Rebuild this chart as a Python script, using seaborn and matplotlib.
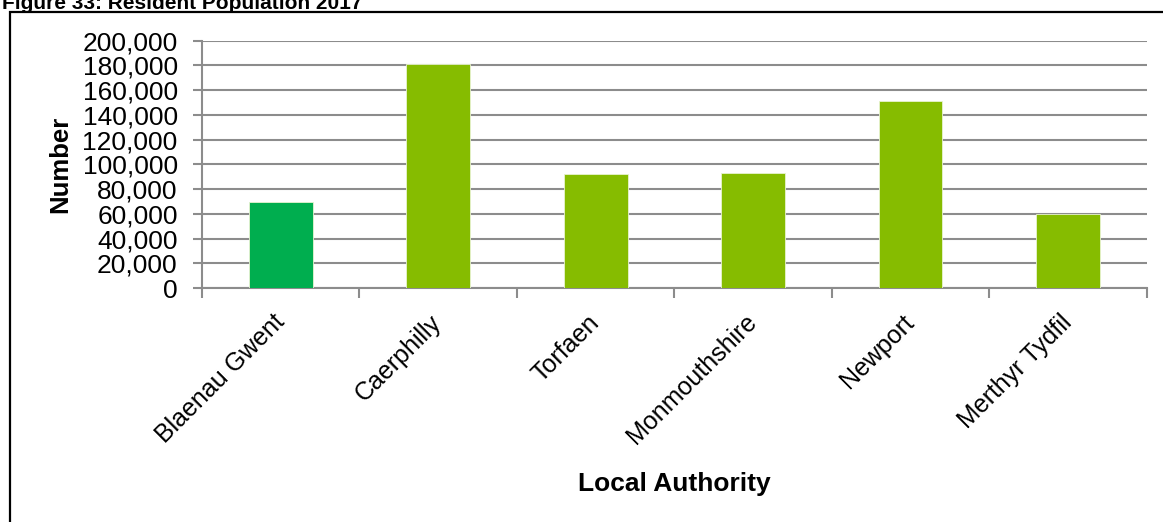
import matplotlib
matplotlib.use("Agg")
import matplotlib.pyplot as plt
from matplotlib.patches import Rectangle
from matplotlib.ticker import FuncFormatter, MultipleLocator, FixedLocator
import seaborn as sns
import pandas as pd

# Resident population by local authority, 2017
authorities = ["Blaenau Gwent", "Caerphilly", "Torfaen", "Monmouthshire", "Newport", "Merthyr Tydfil"]
population = [69600, 180800, 92200, 93200, 151500, 60100]
bar_colors = ["#00AE4F", "#86BC00", "#86BC00", "#86BC00", "#86BC00", "#86BC00"]

title = "Figure 33: Resident Population 2017"
x_title = "Local Authority"
y_title = "Number"

sns.set_theme(style="white")
plt.rcParams["font.family"] = ["Liberation Sans", "DejaVu Sans"]
plt.rcParams["text.color"] = "black"
plt.rcParams["axes.labelcolor"] = "black"

df = pd.DataFrame({"authority": authorities, "population": population})

W, H = 1163, 522
fig = plt.figure(figsize=(W / 100, H / 100), dpi=100)
ax_l, ax_r, ax_b, ax_t = 202, 1146.7, 288, 40.7
ax = fig.add_axes([ax_l / W, 1 - ax_b / H, (ax_r - ax_l) / W, (ax_b - ax_t) / H])

sns.barplot(data=df, x="authority", y="population", hue="authority",
            palette=bar_colors, width=0.405, legend=False, ax=ax,
            saturation=1, edgecolor="#E8F3D0", linewidth=0.6, zorder=3)

grid_c = "#8C8C8C"
ax.set_ylim(0, 200000)
ax.set_xlim(-0.5, len(authorities) - 0.5)
ax.yaxis.set_major_locator(MultipleLocator(20000))
ax.yaxis.set_major_formatter(FuncFormatter(lambda v, p: f"{int(v):,}"))
ax.grid(axis="y", color=grid_c, linewidth=1.5, zorder=0)
ax.set_axisbelow(True)

for side in ("top", "right"):
    ax.spines[side].set_visible(False)
for side in ("left", "bottom"):
    ax.spines[side].set_color(grid_c)
    ax.spines[side].set_linewidth(1.5)

ax.tick_params(axis="y", which="major", left=True, length=6.5, width=1.5,
               color=grid_c, labelsize=19, pad=11, labelcolor="black")
# category labels at bar centres, tick marks at category boundaries
ax.tick_params(axis="x", which="major", bottom=False, length=0,
               labelsize=18, pad=22, labelcolor="black")
ax.xaxis.set_minor_locator(FixedLocator([i - 0.5 for i in range(len(authorities) + 1)]))
ax.tick_params(axis="x", which="minor", bottom=True, length=7, width=1.5,
               color=grid_c, direction="out")
for lbl in ax.get_xticklabels():
    lbl.set_rotation(45)
    lbl.set_ha("right")
    lbl.set_va("center")
    lbl.set_rotation_mode("anchor")

ax.set_xlabel(x_title, fontsize=19, fontweight="bold")
ax.set_ylabel(y_title, fontsize=18.5, fontweight="bold")
ax.xaxis.set_label_coords((674 - ax_l) / (ax_r - ax_l), -(472 - ax_b) / (ax_b - ax_t))
ax.yaxis.set_label_coords(-(ax_l - 72) / (ax_r - ax_l), 0.5)

# frame around the chart area
fig.patches.append(Rectangle((10 / W, -0.05), 1.1, 1 - 12 / H + 0.05,
                             transform=fig.transFigure, fill=False,
                             edgecolor="black", linewidth=1.6))
fig.text(2 / W, 1 - 9 / H, title, fontsize=15, fontweight="bold",
         ha="left", va="baseline")

fig.savefig("out.png", dpi=100)
